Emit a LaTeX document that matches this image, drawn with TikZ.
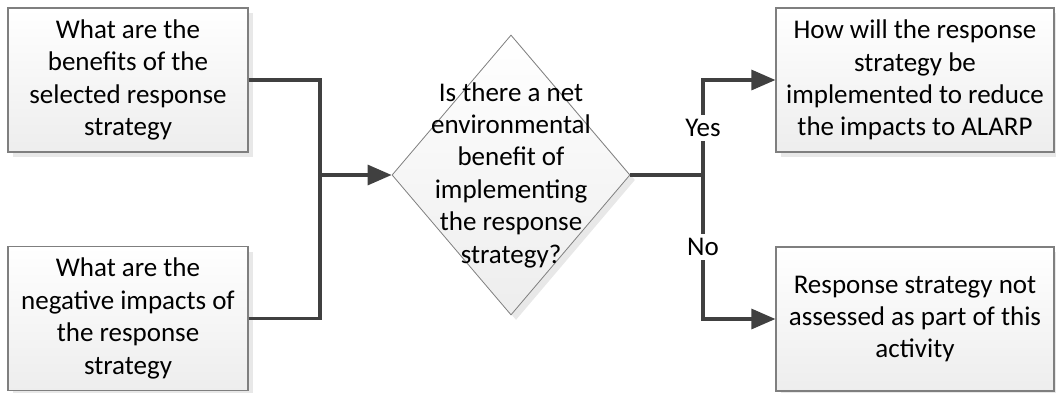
\documentclass[tikz,border=0pt]{standalone}
\usepackage{fontspec}
\setmainfont{Carlito}
\usepackage{xcolor}
\usetikzlibrary{shapes,arrows,positioning,calc,shadows,arrows.meta}
\definecolor{linegray}{HTML}{404040}
\definecolor{edgegray}{HTML}{7F7F7F}
\definecolor{shadegray}{HTML}{E8E8E8}

\begin{document}
\begin{tikzpicture}[x=0.5pt, y=-0.5pt,
    font=\fontsize{13.5}{16.2}\selectfont,
    qbox/.style={draw=edgegray, line width=0.6pt, rectangle, align=center,
        top color=white, bottom color=black!7, inner sep=0pt,
        drop shadow={shadow xshift=2.5pt, shadow yshift=-2.5pt, fill=shadegray, opacity=1}},
    decision/.style={draw=edgegray, line width=0.4pt, diamond, inner sep=0pt,
        minimum width=119pt, minimum height=140pt,
        top color=white, bottom color=black!7,
        drop shadow={shadow xshift=2.5pt, shadow yshift=-2.5pt, fill=shadegray, opacity=1}},
    flow/.style={draw=linegray, line width=1.6pt},
    arrow/.style={flow, -{Triangle[length=12pt, width=10pt]}},
    answer/.style={fill=white, inner sep=2pt}]
    \useasboundingbox (0,0) rectangle (1056,392);

    \node (benefit) [qbox, minimum width=120pt, minimum height=72pt] at (128,80)
        {What are the\\benefits of the\\selected response\\strategy};
    \node (negative) [qbox, minimum width=120pt, minimum height=72pt] at (128,318.5)
        {What are the\\negative impacts of\\the response\\strategy};
    \node (netq) [decision] at (511,175) {};
    \node (netqtext) [align=center] at (netq) {Is there a net\\environmental\\benefit of\\implementing\\the response\\strategy?};
    \node (how) [qbox, minimum width=139pt, minimum height=72pt] at (915,80)
        {How will the response\\strategy be\\implemented to reduce\\the impacts to ALARP};
    \node (notassessed) [qbox, minimum width=139pt, minimum height=72pt] at (915,319)
        {Response strategy not\\assessed as part of this\\activity};

    \coordinate (join) at (320,175);
    \coordinate (split) at (703,175);

    \draw[flow] (benefit.east) -| (join);
    \draw[flow] (negative.east) -| (join);
    \draw[arrow] (join) -- (netq.west);
    \draw[flow] (netq.east) -- (split);
    \draw[arrow] (split) |- (how.west);
    \draw[arrow] (split) |- (notassessed.west);

    \node (yes) [answer] at (703,128) {Yes};
    \node (no) [answer] at (703,247) {No};
\end{tikzpicture}
\end{document}
